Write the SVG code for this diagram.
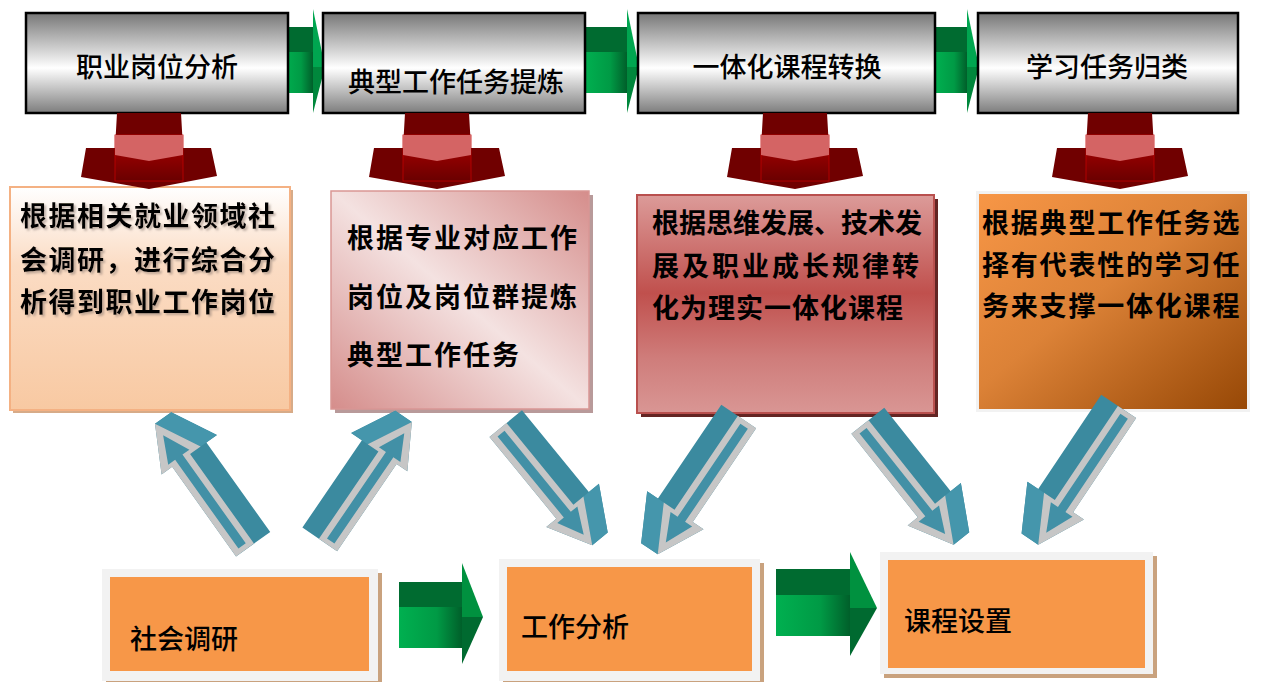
<svg xmlns="http://www.w3.org/2000/svg" width="1264" height="682" viewBox="0 0 1264 682">
<defs>
  <style>
    .t { font-family: "Noto Sans CJK SC", "Noto Sans", sans-serif; fill: #000; }
    .top { font-size: 27px; font-weight: 500; text-anchor: middle; }
    .mid { font-size: 27px; font-weight: 700; }
    .bot { font-size: 27px; font-weight: 500; }
    .topbox { fill: url(#gTop); stroke: #000; stroke-width: 2.5; }
    .frame { fill: #f2f2f2; }
    .fshadow { fill: #c9a27e; }
    .inner { fill: #f79748; }
  </style>
  <linearGradient id="gTop" x1="0" y1="0" x2="0" y2="1">
    <stop offset="0" stop-color="#777"/>
    <stop offset="0.55" stop-color="#fff"/>
    <stop offset="1" stop-color="#7d7d7d"/>
  </linearGradient>
  <linearGradient id="gA" x1="0" y1="0" x2="0" y2="1">
    <stop offset="0" stop-color="#ffffff"/>
    <stop offset="0.35" stop-color="#fbdcc4"/>
    <stop offset="1" stop-color="#f8c9a2"/>
  </linearGradient>
  <linearGradient id="gB" x1="0" y1="1" x2="1" y2="0">
    <stop offset="0" stop-color="#d58d8b"/>
    <stop offset="0.5" stop-color="#f4e2e1"/>
    <stop offset="1" stop-color="#d58d8b"/>
  </linearGradient>
  <linearGradient id="gC" x1="0" y1="0" x2="0" y2="1">
    <stop offset="0" stop-color="#dc9b99"/>
    <stop offset="0.45" stop-color="#c0504d"/>
    <stop offset="0.75" stop-color="#cf7d7b"/>
    <stop offset="1" stop-color="#d99694"/>
  </linearGradient>
  <linearGradient id="gD" x1="0" y1="0" x2="1" y2="1">
    <stop offset="0" stop-color="#f79646"/>
    <stop offset="0.45" stop-color="#dc8237"/>
    <stop offset="1" stop-color="#974806"/>
  </linearGradient>
  <linearGradient id="gGreen" x1="0" y1="0" x2="1" y2="0">
    <stop offset="0" stop-color="#00b050"/>
    <stop offset="0.6" stop-color="#009a45"/>
    <stop offset="1" stop-color="#005f2a"/>
  </linearGradient>
  <linearGradient id="gRedF" x1="0" y1="0" x2="0" y2="1">
    <stop offset="0" stop-color="#b00000"/>
    <stop offset="1" stop-color="#6a0000"/>
  </linearGradient>
  <filter id="ts" x="-5%" y="-20%" width="110%" height="140%">
    <feDropShadow dx="2" dy="2" stdDeviation="1" flood-color="#8a7a70" flood-opacity="0.55"/>
  </filter>
  <g id="ba">
    <polygon points="0,-31 110,-31 110,-44 155,-20 155,0 110,24 110,11 0,11" fill="#3b8a9f"/>
    <polygon points="110,-44 155,-20 155,0 110,-24" fill="#4596ac"/>
    <polygon points="0,-11 110,-11 110,-24 155,0 110,24 110,11 0,11" fill="#c6c6c6"/>
    <polygon points="5,-4.5 114,-4.5 114,-13 141,0 114,13 114,4.5 5,4.5" fill="#4290a6"/>
  </g>
  <g id="ra">
    <polygon points="-32,0 32,0 34,35 62,35 68,63 0,76 -68,64 -63,35 -34,35" fill="#700000"/>
    <rect x="-34" y="22" width="68" height="46" fill="url(#gRedF)" stroke="#c00000" stroke-width="0.8"/>
    <polygon points="-34,22 34,22 34,42 0,48 -34,42" fill="#d46464"/>
  </g>
</defs>

<rect width="1264" height="682" fill="#fff"/>

<g id="connectors">
  <g id="green-top-1">
    <rect x="283" y="27" width="30" height="25" fill="#006b30"/>
    <rect x="283" y="52" width="30" height="41" fill="url(#gGreen)"/>
    <polygon points="313,9 325,67 313,67" fill="#00a650"/>
    <polygon points="313,67 325,67 313,113" fill="#00873c"/>
  </g>
  <g id="green-top-2">
    <rect x="585" y="27" width="42" height="25" fill="#006b30"/>
    <rect x="585" y="52" width="42" height="41" fill="url(#gGreen)"/>
    <polygon points="627,9 639,67 627,67" fill="#00a650"/>
    <polygon points="627,67 639,67 627,113" fill="#00873c"/>
  </g>
  <g id="green-top-3">
    <rect x="935" y="27" width="32" height="25" fill="#006b30"/>
    <rect x="935" y="52" width="32" height="41" fill="url(#gGreen)"/>
    <polygon points="967,9 979,67 967,67" fill="#00a650"/>
    <polygon points="967,67 979,67 967,113" fill="#00873c"/>
  </g>
</g>

<g id="node-top-1">
  <rect class="topbox" x="26" y="13" width="262" height="100"/>
  <text class="t top" x="157" y="77">职业岗位分析</text>
</g>
<g id="node-top-2">
  <rect class="topbox" x="323" y="13" width="262" height="100"/>
  <text class="t top" x="456" y="92">典型工作任务提炼</text>
</g>
<g id="node-top-3">
  <rect class="topbox" x="638" y="13" width="297" height="100"/>
  <text class="t top" x="787" y="77">一体化课程转换</text>
</g>
<g id="node-top-4">
  <rect class="topbox" x="978" y="13" width="260" height="100"/>
  <text class="t top" x="1107" y="77">学习任务归类</text>
</g>

<g id="node-mid-1">
  <rect x="13" y="190" width="280" height="223" fill="#d7ab88"/>
  <rect x="10" y="187" width="280" height="223" fill="url(#gA)" stroke="#f4b183" stroke-width="2"/>
  <g class="t mid" filter="url(#ts)" letter-spacing="1.5">
    <text x="20" y="226">根据相关就业领域社</text>
    <text x="20" y="270">会调研，进行综合分</text>
    <text x="20" y="312">析得到职业工作岗位</text>
  </g>
</g>
<g id="node-mid-2">
  <rect x="335" y="195" width="258" height="218" fill="#b89a9a"/>
  <rect x="331" y="191" width="258" height="218" fill="url(#gB)" stroke="#d99694" stroke-width="1.5"/>
  <g class="t mid" letter-spacing="2">
    <text x="347" y="248">根据专业对应工作</text>
    <text x="347" y="307">岗位及岗位群提炼</text>
    <text x="347" y="365">典型工作任务</text>
  </g>
</g>
<g id="node-mid-3">
  <rect x="641" y="199" width="297" height="218" fill="#632523"/>
  <rect x="637" y="195" width="297" height="218" fill="url(#gC)" stroke="#b9504e" stroke-width="2"/>
  <g class="t mid">
    <text x="652" y="233" letter-spacing="0">根据思维发展、技术发</text>
    <text x="652" y="276" letter-spacing="3">展及职业成长规律转</text>
    <text x="652" y="318" letter-spacing="1">化为理实一体化课程</text>
  </g>
</g>
<g id="node-mid-4">
  <rect x="976" y="191" width="274" height="221" fill="#f2f2f2"/>
  <rect x="979" y="194" width="268" height="215" fill="url(#gD)"/>
  <g class="t mid" letter-spacing="1.8">
    <text x="982" y="233">根据典型工作任务选</text>
    <text x="982" y="275">择有代表性的学习任</text>
    <text x="982" y="316">务来支撑一体化课程</text>
  </g>
</g>

<g id="node-bot-1">
  <rect class="fshadow" x="106" y="573" width="276" height="112"/>
  <rect class="frame" x="102" y="569" width="276" height="112"/>
  <rect class="inner" x="110" y="577" width="259" height="94"/>
  <text class="t bot" x="130" y="649">社会调研</text>
</g>
<g id="node-bot-2">
  <rect class="fshadow" x="503" y="563" width="261" height="122"/>
  <rect class="frame" x="499" y="559" width="261" height="122"/>
  <rect class="inner" x="507" y="567" width="245" height="104"/>
  <text class="t bot" x="521" y="637">工作分析</text>
</g>
<g id="node-bot-3">
  <rect class="fshadow" x="884" y="556" width="273" height="122"/>
  <rect class="frame" x="880" y="552" width="273" height="122"/>
  <rect class="inner" x="888" y="560" width="257" height="108"/>
  <text class="t bot" x="904" y="631">课程设置</text>
</g>

<g id="connectors-2">
  <use href="#ra" transform="translate(149,113)"/>
  <use href="#ra" transform="translate(437,113)"/>
  <use href="#ra" transform="translate(795,113)"/>
  <use href="#ra" transform="translate(1120,113)"/>
  <use href="#ba" transform="translate(245,550) rotate(-125.5) scale(1,-1)"/>
  <use href="#ba" transform="translate(328,545) rotate(-55.7) scale(0.96,1)"/>
  <use href="#ba" transform="translate(498,430) rotate(50.7) scale(0.96,1)"/>
  <use href="#ba" transform="translate(747,422) rotate(124) scale(1.03,-1)"/>
  <use href="#ba" transform="translate(860,427) rotate(51.5) scale(0.97,1)"/>
  <use href="#ba" transform="translate(1127,412) rotate(123.8) scale(1.03,-1)"/>
  <g id="green-bot-1">
    <rect x="399" y="582" width="63" height="25" fill="#006b30"/>
    <rect x="399" y="607" width="63" height="41" fill="url(#gGreen)"/>
    <polygon points="462,563 483,617 462,617" fill="#00913f"/>
    <polygon points="462,617 483,617 462,664" fill="#006a30"/>
  </g>
  <g id="green-bot-2">
    <rect x="776" y="569" width="74" height="26" fill="#006b30"/>
    <rect x="776" y="595" width="74" height="41" fill="url(#gGreen)"/>
    <polygon points="850,552 877,608 850,608" fill="#00913f"/>
    <polygon points="850,608 877,608 850,656" fill="#006a30"/>
  </g>
</g>
</svg>
